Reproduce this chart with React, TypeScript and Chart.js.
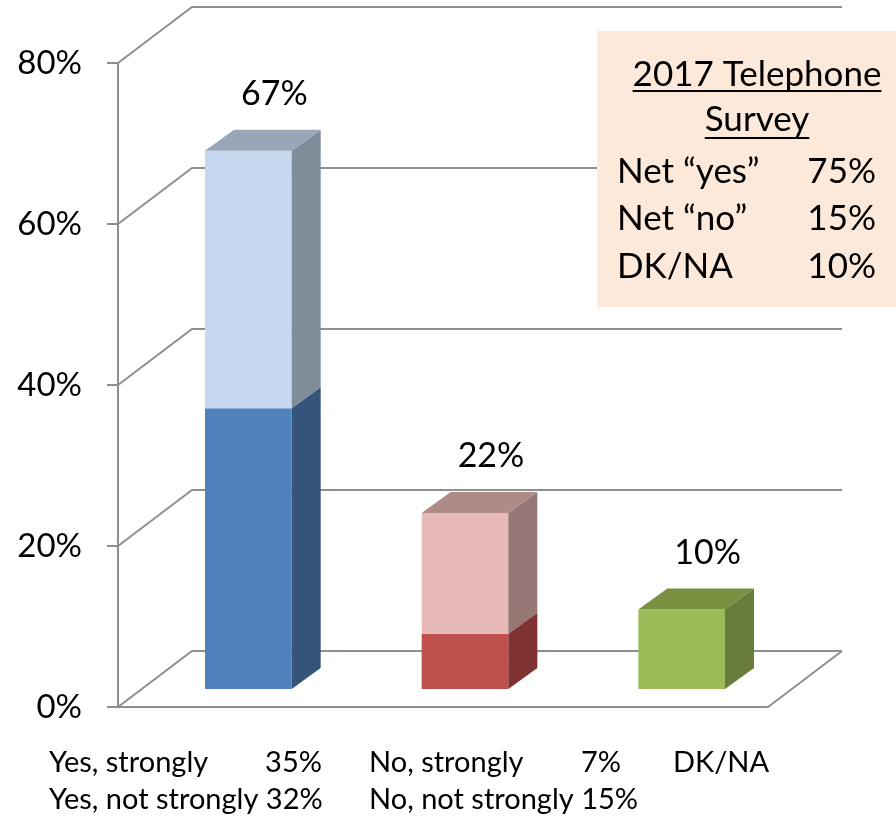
import React, { useEffect, useRef } from "react";
import { Chart, registerables } from "chart.js";

Chart.register(...registerables);

// ---------------- data ----------------
const categories = ["Yes", "No", "DK/NA"];
const strongValues = [35, 7, 10];
const notStrongValues = [32, 15, 0];
const totalLabels = ["67%", "22%", "10%"];
const yMin = 0;
const yMax = 80;
const yStep = 20;

const legendNamesRow1 = ["Yes, strongly", "No, strongly", "DK/NA"];
const legendValuesRow1 = ["35%", "7%", ""];
const legendRow2 = ["Yes, not strongly 32%", "No, not strongly 15%", ""];

const surveyTitle = ["2017 Telephone", "Survey"];
const surveyLabels = ["Net \u201cyes\u201d", "Net \u201cno\u201d", "DK/NA"];
const surveyValues = ["75%", "15%", "10%"];

// ---------------- styles ----------------
const FONT = "Lato, 'Noto Sans', sans-serif";
const GRID = "#8f8f8f";
const strongFront = ["#4F81BD", "#C0504D", "#9BBB59"];
const strongSide = ["#34547A", "#7F3231", "#687D3C"];
const strongTop = ["#6E8DB5", "#A45450", "#78903F"];
const notStrongFront = ["#C6D9F1", "#E6B9B8", "#C6D9F1"];
const notStrongSide = ["#7F8C99", "#957775", "#7F8C99"];
const notStrongTop = ["#98A6B8", "#AF8B88", "#98A6B8"];

const WALL_DX = 74;
const WALL_DY = -56;
const BAR_DX = 22;
const BAR_DY = -17;
const DEPTH_DX = 29;
const DEPTH_DY = -21;

const threeDPlugin = {
  id: "threeD",
  beforeDatasetsDraw(chart: any) {
    const { ctx, chartArea, scales } = chart;
    const y = scales.y;
    const L = chartArea.left;
    const R = chartArea.right;
    const B = chartArea.bottom;
    ctx.save();
    ctx.strokeStyle = GRID;
    ctx.lineWidth = 2;
    for (let v = yMin; v <= yMax; v += yStep) {
      const py = y.getPixelForValue(v);
      ctx.beginPath();
      ctx.moveTo(L, py);
      ctx.lineTo(L + WALL_DX, py + WALL_DY);
      ctx.lineTo(R + WALL_DX, py + WALL_DY);
      ctx.stroke();
    }
    ctx.beginPath();
    ctx.moveTo(L, B);
    ctx.lineTo(R, B);
    ctx.lineTo(R + WALL_DX, B + WALL_DY);
    ctx.stroke();
    ctx.restore();
  },
  afterDatasetsDraw(chart: any) {
    const { ctx } = chart;
    const metas = [chart.getDatasetMeta(0), chart.getDatasetMeta(1)];
    const seriesVals = [strongValues, notStrongValues];
    const fronts = [strongFront, notStrongFront];
    const sides = [strongSide, notStrongSide];
    const tops = [strongTop, notStrongTop];
    ctx.save();
    for (let j = 0; j < categories.length; j++) {
      let lastTop: any = null;
      for (let i = 0; i < metas.length; i++) {
        if (!seriesVals[i][j]) continue;
        const el = metas[i].data[j];
        const x0 = el.x - el.width / 2 + BAR_DX;
        const x1 = x0 + el.width;
        const yt = el.y + BAR_DY;
        const yb = el.base + BAR_DY;
        ctx.fillStyle = fronts[i][j];
        ctx.fillRect(x0, yt, x1 - x0, yb - yt);
        ctx.fillStyle = sides[i][j];
        ctx.beginPath();
        ctx.moveTo(x1, yb);
        ctx.lineTo(x1, yt);
        ctx.lineTo(x1 + DEPTH_DX, yt + DEPTH_DY);
        ctx.lineTo(x1 + DEPTH_DX, yb + DEPTH_DY);
        ctx.closePath();
        ctx.fill();
        lastTop = { x0, x1, yt, color: tops[i][j], cx: el.x };
      }
      if (lastTop) {
        const { x0, x1, yt, color, cx } = lastTop;
        ctx.fillStyle = color;
        ctx.beginPath();
        ctx.moveTo(x0, yt);
        ctx.lineTo(x1, yt);
        ctx.lineTo(x1 + DEPTH_DX, yt + DEPTH_DY);
        ctx.lineTo(x0 + DEPTH_DX, yt + DEPTH_DY);
        ctx.closePath();
        ctx.fill();
        ctx.fillStyle = "#000";
        ctx.font = `34px ${FONT}`;
        ctx.textAlign = "center";
        ctx.textBaseline = "alphabetic";
        ctx.fillText(totalLabels[j], cx + BAR_DX + 26, yt + DEPTH_DY - 25);
      }
    }
    ctx.restore();
  },
  afterDraw(chart: any) {
    const { ctx } = chart;
    ctx.save();
    // bottom legend text
    ctx.fillStyle = "#000";
    ctx.font = `29px ${FONT}`;
    ctx.textBaseline = "alphabetic";
    const nameX = [49, 369, 673];
    const valRight = [322, 621, 0];
    for (let j = 0; j < legendNamesRow1.length; j++) {
      ctx.textAlign = "left";
      ctx.fillText(legendNamesRow1[j], nameX[j], 772);
      if (legendValuesRow1[j]) {
        ctx.textAlign = "right";
        ctx.fillText(legendValuesRow1[j], valRight[j], 772);
      }
      if (legendRow2[j]) {
        ctx.textAlign = "left";
        ctx.fillText(legendRow2[j], nameX[j], 809);
      }
    }
    // survey box
    ctx.fillStyle = "#FDE9D9";
    ctx.fillRect(597, 31, 299, 276);
    ctx.fillStyle = "#000";
    ctx.font = `35px ${FONT}`;
    ctx.textAlign = "center";
    const titleBase = [86, 131];
    for (let k = 0; k < surveyTitle.length; k++) {
      ctx.fillText(surveyTitle[k], 757, titleBase[k]);
      const w = ctx.measureText(surveyTitle[k]).width;
      ctx.fillRect(757 - w / 2, titleBase[k] + 4 + k * 2, w, 2);
    }
    const rowBase = [183, 230, 278];
    for (let k = 0; k < surveyLabels.length; k++) {
      ctx.textAlign = "left";
      ctx.fillText(surveyLabels[k], 617, rowBase[k]);
      ctx.textAlign = "right";
      ctx.fillText(surveyValues[k], 876, rowBase[k]);
    }
    ctx.restore();
  },
};

export default function App() {
  const ref = useRef<HTMLCanvasElement | null>(null);
  useEffect(() => {
    document.body.style.margin = "0";
    const canvas = ref.current;
    if (!canvas) return;
    const chart = new Chart(canvas, {
      type: "bar",
      data: {
        labels: categories,
        datasets: [
          {
            label: "Strongly",
            data: strongValues,
            backgroundColor: "rgba(0,0,0,0)",
            borderWidth: 0,
          },
          {
            label: "Not strongly",
            data: notStrongValues,
            backgroundColor: "rgba(0,0,0,0)",
            borderWidth: 0,
          },
        ],
      },
      options: {
        animation: false,
        responsive: false,
        devicePixelRatio: 1,
        layout: { padding: { left: 0, top: 63, right: 128, bottom: 111 } },
        datasets: { bar: { categoryPercentage: 1, barPercentage: 0.4 } },
        plugins: { legend: { display: false }, tooltip: { enabled: false } },
        scales: {
          x: { stacked: true, display: false },
          y: {
            stacked: true,
            min: yMin,
            max: yMax,
            ticks: {
              stepSize: yStep,
              padding: 25,
              color: "#000",
              font: { family: FONT, size: 33 },
              callback: (v: any) => `${v}%`,
            },
            grid: {
              drawOnChartArea: false,
              drawTicks: true,
              tickLength: 11,
              color: GRID,
              lineWidth: 2,
            },
            border: { display: true, color: GRID, width: 2 },
            afterFit: (scale: any) => {
              scale.width = 118;
            },
          },
        },
      },
      plugins: [threeDPlugin],
    });
    return () => chart.destroy();
  }, []);
  return (
    <div style={{ width: 896, height: 818, background: "#fff" }}>
      <canvas ref={ref} width={896} height={818} style={{ display: "block" }} />
    </div>
  );
}
